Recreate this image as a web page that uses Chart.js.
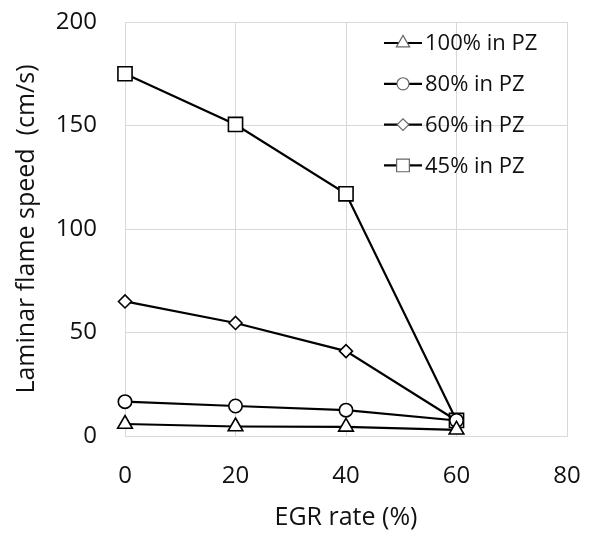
<!DOCTYPE html>
<html>
<head>
<meta charset="utf-8">
<script src="https://cdn.jsdelivr.net/npm/chart.js@4/dist/chart.umd.min.js"></script>
<style>
  html, body { margin: 0; padding: 0; background: #fff; }
  #wrap { width: 592px; height: 537px; }
</style>
</head>
<body>
<div id="wrap"><canvas id="chart"></canvas></div>
<script>
  var egr = [0, 20, 40, 60];
  var pz100 = [5.8, 4.6, 4.4, 3];
  var pz80 = [16.6, 14.5, 12.5, 7.5];
  var pz60 = [65, 54.6, 41, 7.5];
  var pz45 = [175, 150.5, 117, 7.5];
  var xTicks = [0, 20, 40, 60, 80];
  var yTicks = [0, 50, 100, 150, 200];

  var fonte = "'Open Sans', sans-serif";

  function serie(label, valores, estilo, raio) {
    return {
      label: label,
      data: valores.map(function (v, i) {
        return { x: egr[i], y: v };
      }),
      borderColor: "#000",
      backgroundColor: "#fff",
      borderWidth: 2.2,
      pointStyle: estilo,
      pointRadius: raio,
      pointBorderWidth: 1.6,
      pointBackgroundColor: "#fff",
      pointBorderColor: "#000",
      tension: 0,
      fill: false,
      clip: false,
    };
  }

  // legenda desenhada dentro da área do gráfico (linha + marcador)
  var legendaInterna = {
    id: "legendaInterna",
    afterDraw: function (chart) {
      var ctx = chart.ctx;
      var x0 = 384, y0 = 43, passo = 40.8;
      chart.data.datasets.forEach(function (ds, i) {
        var y = y0 + i * passo;
        ctx.save();
        ctx.strokeStyle = "#000";
        ctx.lineWidth = 2.2;
        ctx.beginPath();
        ctx.moveTo(x0, y);
        ctx.lineTo(x0 + 38, y);
        ctx.stroke();
        ctx.fillStyle = "#fff";
        ctx.strokeStyle = "#666";
        ctx.lineWidth = 1.2;
        Chart.helpers.drawPoint(ctx, { pointStyle: ds.pointStyle, radius: ds.pointRadius * 0.9, borderWidth: 1.2 }, x0 + 19, y);
        ctx.fillStyle = "#111";
        ctx.font = "22px " + fonte;
        ctx.textBaseline = "middle";
        ctx.textAlign = "left";
        ctx.fillText(ds.label, x0 + 41, y + 1);
        ctx.restore();
      });
    },
  };

  new Chart(document.getElementById("chart"), {
    type: "line",
    data: {
      datasets: [
        serie("100% in PZ", pz100, "triangle", 8.5),
        serie("80% in PZ", pz80, "circle", 6.7),
        serie("60% in PZ", pz60, "rectRot", 6.5),
        serie("45% in PZ", pz45, "rect", 10),
      ],
    },
    options: {
      responsive: true,
      maintainAspectRatio: false,
      animation: false,
      layout: { padding: { top: 22, right: 25, left: 0, bottom: 0 } },
      plugins: {
        legend: { display: false },
        tooltip: { enabled: false },
      },
      scales: {
        x: {
          type: "linear",
          min: 0,
          max: 80,
          afterBuildTicks: function (s) {
            s.ticks = xTicks.map(function (v) { return { value: v }; });
          },
          afterFit: function (s) {
            s.height = 101;
            s.paddingLeft = 0;
            s.paddingRight = 0;
          },
          grid: { color: "#d9d9d9", lineWidth: 1, drawTicks: false },
          border: { color: "#d9d9d9" },
          ticks: { color: "#111", padding: 26, font: { family: fonte, size: 24 } },
          title: {
            display: true,
            text: "EGR rate (%)",
            color: "#111",
            padding: { top: 0, bottom: 4 },
            font: { family: fonte, size: 25 },
          },
        },
        y: {
          min: 0,
          max: 200,
          afterBuildTicks: function (s) {
            s.ticks = yTicks.map(function (v) { return { value: v }; });
          },
          afterFit: function (s) {
            s.width = 125;
            s.paddingTop = 0;
            s.paddingBottom = 0;
          },
          grid: { color: "#d9d9d9", lineWidth: 1, drawTicks: false },
          border: { color: "#d9d9d9" },
          ticks: { color: "#111", padding: 28, font: { family: fonte, size: 24 } },
          title: {
            display: true,
            text: "Laminar flame speed  (cm/s)",
            color: "#111",
            padding: { top: 12, bottom: 0 },
            font: { family: fonte, size: 25 },
          },
        },
      },
    },
    plugins: [legendaInterna],
  });
</script>
</body>
</html>
